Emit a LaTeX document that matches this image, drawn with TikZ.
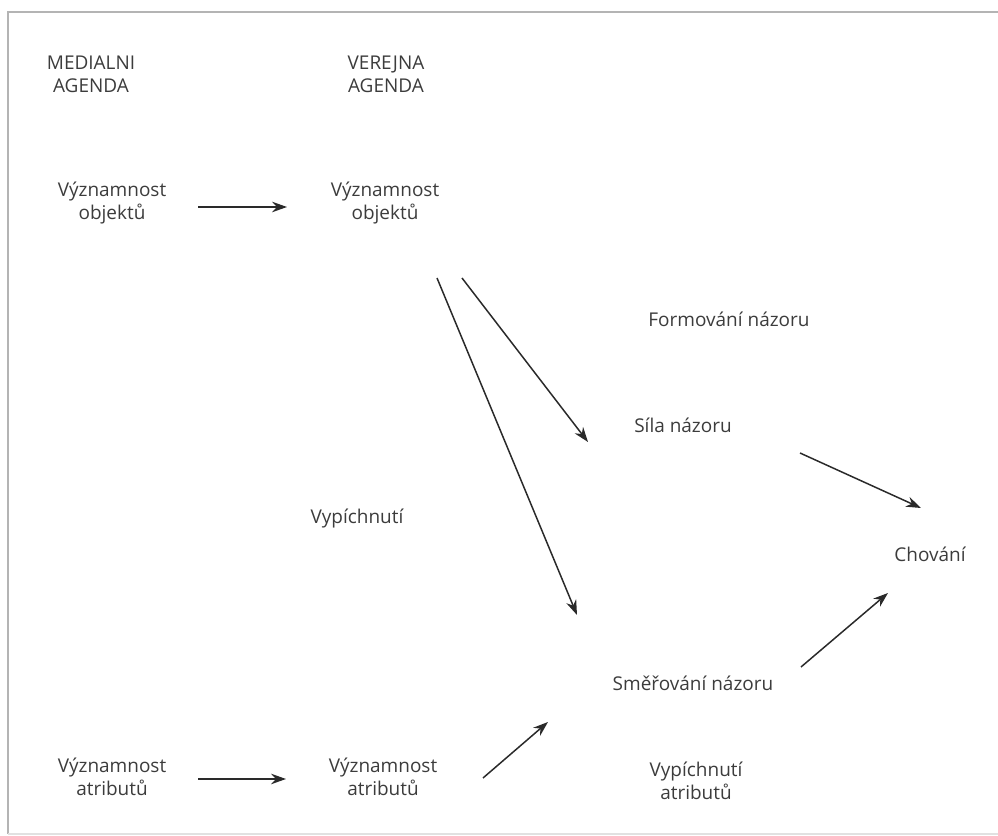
\documentclass[tikz,border=0pt]{standalone}
\usepackage{fontspec}
\setmainfont{Open Sans}
\usepackage{xcolor}
\usetikzlibrary{arrows.meta, positioning}
\definecolor{txtgray}{HTML}{3C3C3C}
\definecolor{linegray}{HTML}{2A2A2A}
\definecolor{framegray}{HTML}{B4B4B4}

\begin{document}
\begin{tikzpicture}[auto, node distance=2cm, >={Stealth[length=8.5pt,width=6pt]},
    txt/.style={align=center, inner sep=0pt, text=txtgray, font=\fontsize{10.8}{12.9}\selectfont},
    arr/.style={->, draw=linegray, line width=0.85pt}]
    \useasboundingbox (0,0) rectangle (19.96,-16.72);
    % frame
    \draw [framegray, line width=1.2pt] (19.96,-0.24) -- (0.16,-0.24) -- (0.16,-16.68);
    \draw [framegray!40, line width=1pt] (0.16,-16.68) -- (19.96,-16.68);

    \node [txt] (medA) at (1.82,-1.48) {MEDIALNI\\AGENDA};
    \node [txt] (verA) at (7.72,-1.48) {VEREJNA\\AGENDA};
    \node [txt] (mObj) at (2.24,-4.06) {Významnost\\objektů};
    \node [txt, right of=mObj, node distance=5.46cm] (vObj) {Významnost\\objektů};
    \node [txt] (form) at (14.58,-6.38) {Formování názoru};
    \node [txt] (sila) at (13.66,-8.50) {Síla názoru};
    \node [txt] (vyp) at (7.14,-10.38) {Vypíchnutí};
    \node [txt] (chov) at (18.60,-11.08) {Chování};
    \node [txt] (smer) at (13.86,-13.66) {Směřování názoru};
    \node [txt, below of=mObj, node distance=11.48cm] (mAtr) {Významnost\\atributů};
    \node [txt, right of=mAtr, node distance=5.42cm] (vAtr) {Významnost\\atributů};
    \node [txt] (vypA) at (13.92,-15.62) {Vypíchnutí\\atributů};

    \draw [arr] ([shift={(1.72,-0.08)}]mObj.center) -- ([shift={(-1.96,-0.08)}]vObj.center);
    \draw [arr] ([shift={(1.54,-1.50)}]vObj.center) -- ([shift={(-1.90,-0.34)}]sila.center);
    \draw [arr] ([shift={(1.04,-1.50)}]vObj.center) -- ([shift={(-2.32,1.36)}]smer.center);
    \draw [arr] ([shift={(1.72,-0.04)}]mAtr.center) -- ([shift={(-1.94,-0.04)}]vAtr.center);
    \draw [arr] ([shift={(2.00,-0.02)}]vAtr.center) -- ([shift={(-2.90,-0.78)}]smer.center);
    \draw [arr] ([shift={(2.34,-0.56)}]sila.center) -- ([shift={(-0.18,0.92)}]chov.center);
    \draw [arr] ([shift={(2.16,0.32)}]smer.center) -- ([shift={(-0.84,-0.78)}]chov.center);
\end{tikzpicture}
\end{document}
